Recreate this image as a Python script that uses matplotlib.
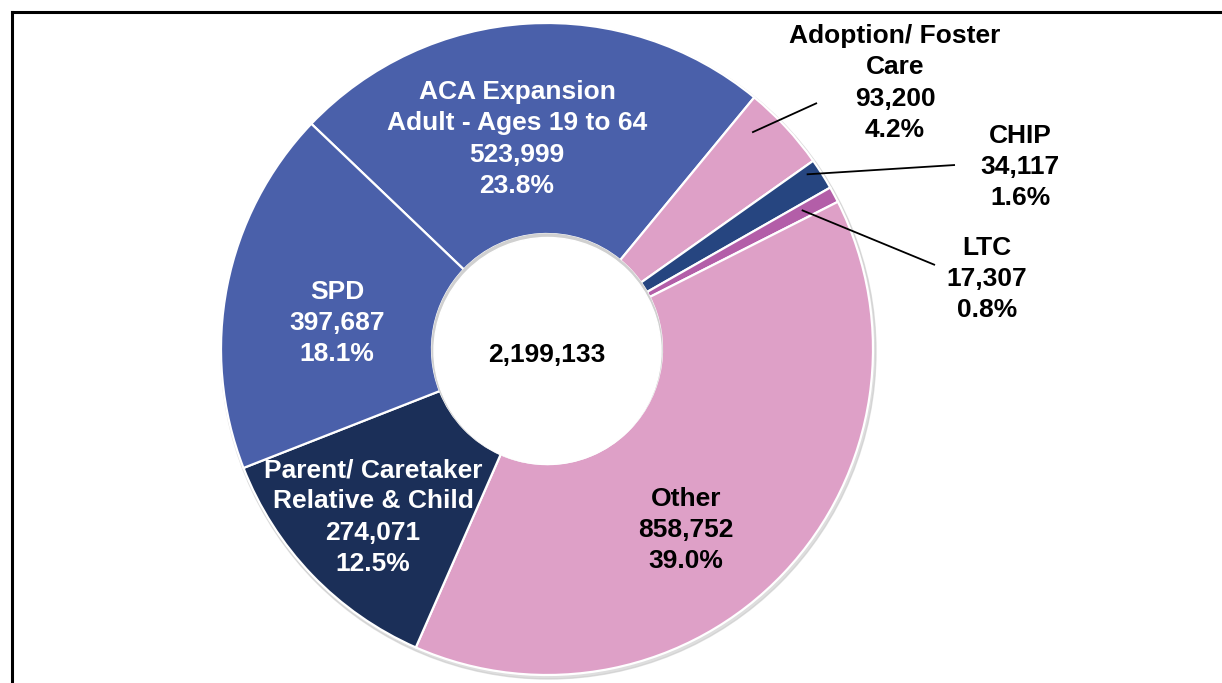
"""
Donut chart of enrollment by aid category, total 2,199,133.
"""

import numpy as np
import matplotlib.pyplot as plt
from matplotlib.lines import Line2D

categories = ["ACA Expansion\nAdult - Ages 19 to 64", "Adoption/ Foster\nCare", "CHIP", "LTC",
              "Other", "Parent/ Caretaker\nRelative & Child", "SPD"]
counts = [523999, 93200, 34117, 17307, 858752, 274071, 397687]
colors = ["#4A60AA", "#DEA0C7", "#264580", "#B35EA8", "#DEA0C7", "#1B2F58", "#4A60AA"]
text_colors = ["white", "black", "black", "black", "black", "white", "white"]

W, H = 1222, 683
CX, CY = 547, H - 349   # pie centre in pixel units
R = 326
R_IN = 115

plt.rcParams["font.family"] = ["Liberation Sans", "DejaVu Sans"]
plt.rcParams["font.weight"] = "bold"

fig = plt.figure(figsize=(W / 100, H / 100), dpi=100)
ax = fig.add_axes([0, 0, 1, 1])

# faint shadow under the ring
ax.add_patch(plt.Circle((CX + 1.5, CY - 2.5), R + 1.5, color="#c8c8c8", alpha=0.6, zorder=0))

total = sum(counts)
wedges, _ = ax.pie(counts, colors=colors, startangle=136.3, counterclock=False,
                   radius=R, center=(CX, CY),
                   wedgeprops=dict(width=R - R_IN, edgecolor="white", linewidth=1.6))
for w in wedges:
    w.set_zorder(2)

# hole, with a light inner shadow at the top
ax.add_patch(plt.Circle((CX, CY), R_IN, color="#d0d0d0", zorder=3))
ax.add_patch(plt.Circle((CX + 0.5, CY - 2), R_IN - 1.5, color="white", zorder=4))

ax.set_xlim(0, W)
ax.set_ylim(0, H)
ax.axis("off")


def label(i):
    pct = counts[i] / total * 100
    return f"{categories[i]}\n{counts[i]:,}\n{pct:.1f}%"


fs = 19
ls = 1.37
# labels inside the ring (pixel positions from the top-left)
inside = {0: (517, 139), 4: (686, 530), 5: (373, 517), 6: (337, 323)}
for i, (x, y) in inside.items():
    ax.text(x, H - y, label(i), ha="center", va="center", fontsize=fs,
            color=text_colors[i], linespacing=ls, zorder=5)

# outside labels with leader lines: label centre, line end, (position along wedge, radius fraction)
outside = {1: ((895, 83), (817, 103), (0.74, 0.915)),
           2: ((1020, 167), (955, 165), (0.76, 0.96)),
           3: ((987, 279), (935, 265), (0.62, 0.89))}
for i, ((x, y), (lx, ly), (t, frac)) in outside.items():
    w = wedges[i]
    ang = np.deg2rad(w.theta1 + t * (w.theta2 - w.theta1))
    sx = CX + frac * R * np.cos(ang)
    sy = CY + frac * R * np.sin(ang)
    ax.plot([sx, lx], [sy, H - ly], color="black", lw=1.3, zorder=6, solid_capstyle="butt")
    ax.text(x, H - y, label(i), ha="center", va="center", fontsize=fs,
            color=text_colors[i], linespacing=ls, zorder=5)

ax.text(CX, CY - 6, f"{total:,}", ha="center", va="center", fontsize=fs,
        color="black", zorder=6)

# border frame (cropped at right and bottom)
fx, fy = 11.5 / W, 1 - 11.5 / H
fig.add_artist(Line2D([fx, 1.01], [fy, fy], color="black", lw=2.2))
fig.add_artist(Line2D([fx, fx], [fy, -0.01], color="black", lw=2.2))

fig.savefig("out.png", dpi=100)
